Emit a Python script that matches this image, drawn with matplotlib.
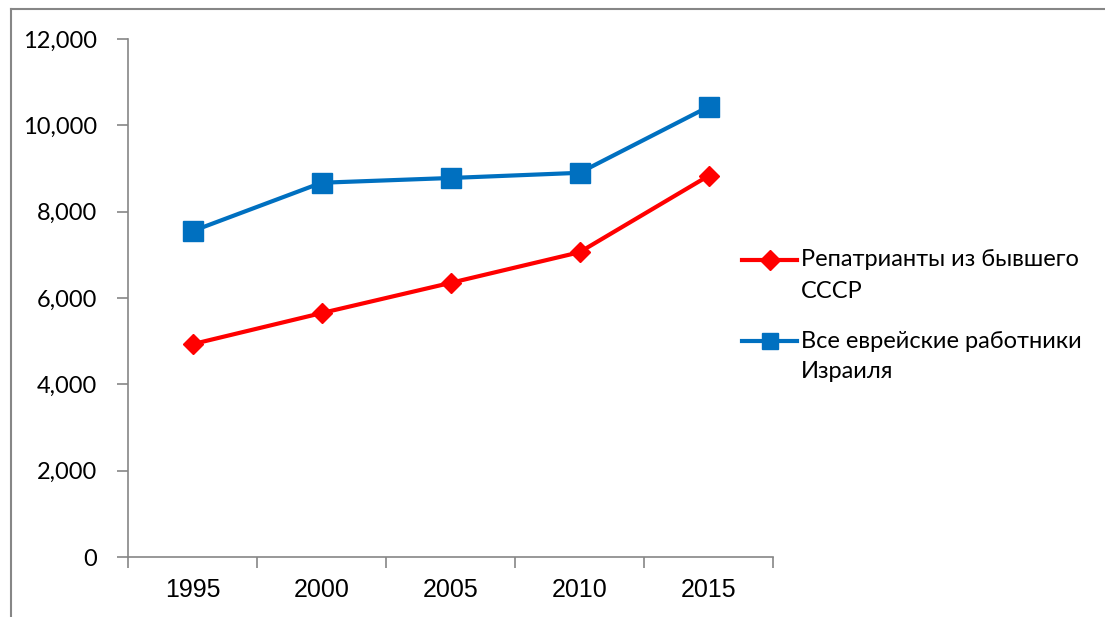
"""Wages of repatriants from the former USSR vs all Jewish workers in Israel."""

import matplotlib.pyplot as plt
import matplotlib.transforms as mtransforms
from matplotlib.lines import Line2D
from matplotlib.ticker import FuncFormatter, FixedLocator, NullFormatter

years = ["1995", "2000", "2005", "2010", "2015"]
repatriants = [4930, 5650, 6350, 7060, 8830]
all_jewish = [7550, 8670, 8780, 8900, 10430]
labels = [["Репатрианты из бывшего", "СССР"], ["Все еврейские работники", "Израиля"]]

RED = "#FF0000"
BLUE = "#0070C0"
AXIS = "#868686"
W, H = 1105, 617

plt.rcParams["font.family"] = ["Lato", "DejaVu Sans"]


def fpos(xp, yp):
    """pixel position (from top-left) -> figure fraction"""
    return xp / W, 1 - yp / H


fig = plt.figure(figsize=(W / 100, H / 100), dpi=100)
ax = fig.add_axes([128 / W, 1 - 557 / H, (773 - 128) / W, (557 - 39) / H])

x = list(range(len(years)))
styles = [dict(color=RED, marker="D", markersize=10),
          dict(color=BLUE, marker="s", markersize=14)]
for vals, st in zip([repatriants, all_jewish], styles):
    ax.plot(x, vals, linewidth=3, zorder=3, **st)

ax.set_xlim(-0.5, len(years) - 0.5)
ax.set_ylim(0, 12000)
ax.set_yticks(range(0, 12001, 2000))
ax.yaxis.set_major_formatter(FuncFormatter(lambda v, _: f"{int(v):,}"))

# category axis: tick marks between categories, labels at centres
ax.xaxis.set_major_locator(FixedLocator([i - 0.5 for i in range(len(years) + 1)]))
ax.xaxis.set_major_formatter(NullFormatter())
ax.tick_params(axis="x", which="major", length=8, color=AXIS, width=1.2)
ax.tick_params(axis="y", length=8, color=AXIS, width=1.2, labelsize=17, pad=14)
trans = mtransforms.blended_transform_factory(ax.transData, ax.transAxes)
for i, yr in zip(x, years):
    ax.text(i, -0.064, yr, transform=trans, ha="center", va="center",
            fontfamily="Liberation Sans", fontsize=18)

for side in ("top", "right"):
    ax.spines[side].set_visible(False)
for side in ("left", "bottom"):
    ax.spines[side].set_color(AXIS)
    ax.spines[side].set_linewidth(1.2)

# legend drawn by hand so the key sits on the first text line (Excel style)
for (l1, l2), st, y0, ms in zip(labels, styles, [260, 341], [10, 12]):
    (xa, ya), (xb, _) = fpos(742, y0), fpos(797, y0)
    fig.add_artist(Line2D([xa, xb], [ya, ya], linewidth=3, transform=fig.transFigure,
                          color=st["color"]))
    fig.add_artist(Line2D([(xa + xb) / 2], [ya], linestyle="none", transform=fig.transFigure,
                          color=st["color"], marker=st["marker"], markersize=ms))
    fig.text(*fpos(801, y0), l1, fontsize=17, va="center", ha="left")
    fig.text(*fpos(801, y0 + 31), l2, fontsize=17, va="center", ha="left")

# chart-area frame (runs off the right and bottom edges)
fx, fy = fpos(11, 9)
fig.add_artist(Line2D([fx, fx], [-0.01, fy], color=AXIS, linewidth=1.5,
                      transform=fig.transFigure))
fig.add_artist(Line2D([fx, 1.01], [fy, fy], color=AXIS, linewidth=1.5,
                      transform=fig.transFigure))

fig.savefig("out.png", dpi=100)
